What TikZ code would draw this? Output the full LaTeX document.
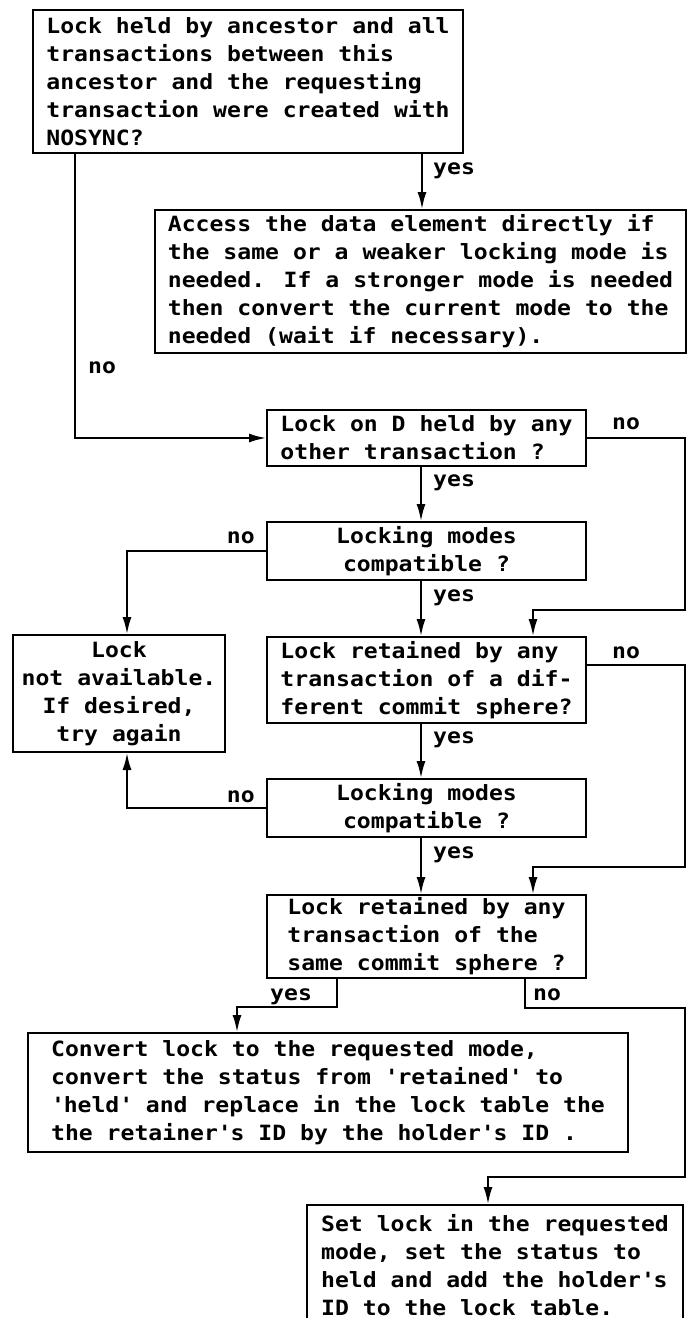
\documentclass[tikz,border=0pt]{standalone}
\usepackage{fontspec}
\newfontfamily\monofam[FakeStretch=1.1]{DejaVu Sans Mono}
\newcommand\boxfont{\monofam\bfseries\fontsize{21}{28}\selectfont}
\newcommand\q{\textquotesingle}
\usetikzlibrary{arrows.meta,calc}

\begin{document}
\begin{tikzpicture}[x=1pt,y=-1pt,
  box/.style={draw, rectangle, line width=2.7pt, outer sep=0pt, inner sep=0pt,
              anchor=north west, align=left, font=\boxfont},
  cbox/.style={box, align=center},
  flow/.style={line width=2.7pt, -{Latex[length=18pt,width=9pt]}},
  lab/.style={font=\boxfont, inner sep=0pt, anchor=base west},
  labr/.style={lab, anchor=base east}]
\useasboundingbox (0,0) rectangle (691,1318);
\fill[white] (0,0) rectangle (691,1318);

% decision and action boxes
\node[box, minimum width=430, minimum height=143] (q1) at (33,10)
  {Lock held by ancestor and all\\transactions between this\\ancestor and the requesting\\transaction were created with\\NOSYNC?};
\node[box, minimum width=531, minimum height=143] (q2) at (155,210)
  {Access the data element directly if\\the same or a weaker locking mode is\\needed. If a stronger mode is needed\\then convert the current mode to the\\needed (wait if necessary).};
\node[box, minimum width=319, minimum height=56] (q3) at (267,410)
  {Lock on D held by any\\other transaction ?};
\node[cbox, minimum width=319, minimum height=58] (q4) at (267,522)
  {Locking modes\\compatible ?};
\node[box, minimum width=319, minimum height=86] (q5) at (267,637)
  {Lock retained by any\\transaction of a dif-\\ferent commit sphere?};
\node[cbox, minimum width=212, minimum height=117] (qL) at (13,635)
  {Lock\\not available.\\If desired,\\try again};
\node[cbox, minimum width=319, minimum height=58] (q6) at (267,779)
  {Locking modes\\compatible ?};
\node[box, minimum width=319, minimum height=83] (q7) at (267,895)
  {Lock retained by any\\transaction of the\\same commit sphere ?};
\node[box, minimum width=600, minimum height=119] (q8) at (28,1033)
  {Convert lock to the requested mode,\\convert the status from \q retained\q{} to\\\q held\q{} and replace in the lock table the\\the retainer\q s ID by the holder\q s ID .};
\node[box, minimum width=376, minimum height=120] (q9) at (307,1205)
  {Set lock in the requested\\mode, set the status to\\held and add the holder\q s\\ID to the lock table.};

% routing columns and bends
\coordinate (lx) at (75,0);
\coordinate (yx) at (422,0);
\coordinate (cx) at (421,0);
\coordinate (mx) at (533,0);
\coordinate (lcx) at (127,0);
\coordinate (sy) at (337,0);
\coordinate (sn) at (525,0);
\coordinate (j1) at (685,610);
\coordinate (j2) at (685,867);
\coordinate (j3) at (237,1007);
\coordinate (j4) at (685,1008);
\coordinate (j5) at (488,1177);

% connectors
\draw[flow] (q1.south -| lx) |- (q3.west);
\draw[flow] (q1.south -| yx) -- (q2.north -| yx);
\draw[flow] (q3.east) -| (j1) -| (q5.north -| mx);
\draw[flow] (q3.south -| cx) -- (q4.north -| cx);
\draw[flow] (q4.west) -| (qL.north -| lcx);
\draw[flow] (q4.south -| cx) -- (q5.north -| cx);
\draw[flow] ($(q5.north east)+(0,28)$) -| (j2) -| (q7.north -| mx);
\draw[flow] (q5.south -| cx) -- (q6.north -| cx);
\draw[flow] (q6.west) -| (qL.south -| lcx);
\draw[flow] (q6.south -| cx) -- (q7.north -| cx);
\draw[flow] (q7.south -| sy) |- (j3) -- (q8.north -| j3);
\draw[flow] (q7.south -| sn) |- (j4) |- (j5) -- (q9.north -| j5);

% branch labels
\node[lab] (l1) at (88,373) {no};
\node[lab] (l2) at (433,174) {yes};
\node[lab] (l3) at (612,429) {no};
\node[lab] (l4) at (433,486) {yes};
\node[labr] (l5) at (255,543) {no};
\node[lab] (l6) at (433,601) {yes};
\node[lab] (l7) at (612,658) {no};
\node[lab] (l8) at (433,743) {yes};
\node[labr] (l9) at (255,802) {no};
\node[lab] (l10) at (433,858) {yes};
\node[lab] (l11) at (270,1000) {yes};
\node[lab] (l12) at (533,1000) {no};
\end{tikzpicture}
\end{document}
